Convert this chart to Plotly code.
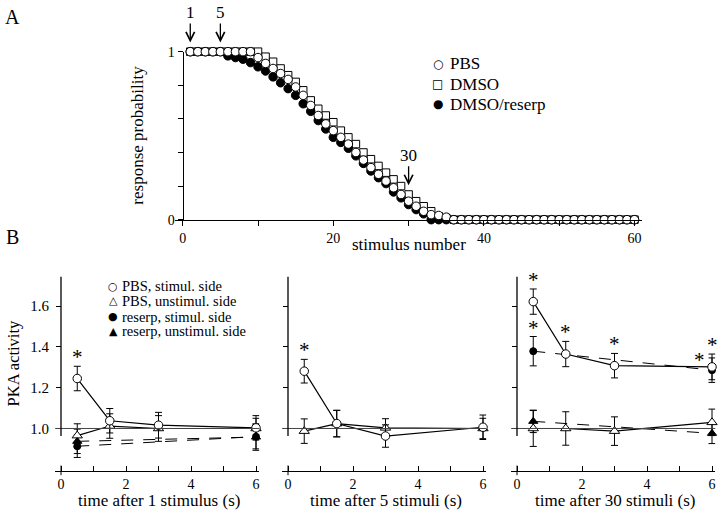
import plotly.graph_objects as go

FONT = "Liberation Serif, Times New Roman, serif"
W, H = 720, 520

# ---------------- Panel A data ----------------
stimulus = list(range(1, 61))
pbs_prob = [1.0, 1.0, 1.0, 1.0, 1.0, 1.0, 1.0, 1.0, 1.0, 0.965,
            0.93, 0.90, 0.87, 0.835, 0.79, 0.74, 0.68, 0.62, 0.57, 0.53,
            0.49, 0.45, 0.40, 0.355, 0.31, 0.27, 0.23, 0.19, 0.15, 0.11,
            0.08, 0.05, 0.03, 0.025, 0.015, 0, 0, 0, 0, 0,
            0, 0, 0, 0, 0, 0, 0, 0, 0, 0,
            0, 0, 0, 0, 0, 0, 0, 0, 0, 0]
dmso_prob = [1.0, 1.0, 1.0, 1.0, 1.0, 1.0, 1.0, 1.0, 1.0, 1.0,
             0.97, 0.94, 0.90, 0.86, 0.82, 0.77, 0.71, 0.66, 0.62, 0.58,
             0.53, 0.49, 0.45, 0.40, 0.36, 0.32, 0.28, 0.24, 0.20, 0.15,
             0.11, 0.08, 0.05, 0.02, 0.01, 0, 0, 0, 0, 0,
             0, 0, 0, 0, 0, 0, 0, 0, 0, 0,
             0, 0, 0, 0, 0, 0, 0, 0, 0, 0]
reserp_prob = [1.0, 1.0, 1.0, 1.0, 1.0, 0.975, 0.965, 0.955, 0.935, 0.91,
               0.885, 0.85, 0.815, 0.78, 0.74, 0.69, 0.645, 0.59, 0.54, 0.49,
               0.46, 0.425, 0.38, 0.335, 0.29, 0.25, 0.215, 0.165, 0.13, 0.09,
               0.06, 0.035, 0, 0, 0, 0, 0, 0, 0, 0,
               0, 0, 0, 0, 0, 0, 0, 0, 0, 0,
               0, 0, 0, 0, 0, 0, 0, 0, 0, 0]
arrow_stimuli = [1, 5, 30]

# ---------------- Panel B data ----------------
time_s = [0.5, 1.5, 3, 6]
panel_titles = ["time after 1 stimulus (s)", "time after 5 stimuli (s)", "time after 30 stimuli (s)"]

pbs_stim = [[1.245, 1.038, 1.016, 1.003],
            [1.281, 1.024, 0.963, 1.006],
            [1.622, 1.365, 1.308, 1.302]]
pbs_stim_err = [[0.06, 0.06, 0.063, 0.06],
                [0.058, 0.065, 0.055, 0.06],
                [0.062, 0.062, 0.06, 0.063]]
pbs_unstim = [[0.965, 1.012, 1.0, 1.0],
              [0.987, 1.024, 1.003, 1.0],
              [1.0, 1.0, 0.987, 1.03]]
pbs_unstim_err = [[0.058, 0.06, 0.063, 0.05],
                  [0.06, 0.065, 0.045, 0.05],
                  [0.088, 0.082, 0.07, 0.065]]
reserp_stim = [[0.913, None, None, 0.96],
               [None, None, None, None],
               [1.379, None, None, 1.286]]
reserp_stim_err = [[0.055, None, None, 0.06],
                   [None, None, None, None],
                   [0.072, None, None, 0.06]]
reserp_unstim = [[0.937, None, None, 0.958],
                 [None, None, None, None],
                 [1.035, None, None, 0.976]]
reserp_unstim_err = [[0.06, None, None, 0.065],
                     [None, None, None, None],
                     [0.055, None, None, 0.05]]
# significance stars: (panel, series, time index)
stars = [(0, "pbs", 0), (1, "pbs", 0),
         (2, "pbs", 0), (2, "res", 0), (2, "pbs", 1), (2, "pbs", 2), (2, "pbs", 3), (2, "res", 3)]

# ---------------- geometry (reference pixel -> paper fraction) ----------------
def fx(p):
    return p / W

def fy(p):
    return 1 - p / H

fig = go.Figure()

# Panel A axes
A_xr = [-1, 61]
A_dom = [fx(175.2), fx(642)]
A_ydom = [fy(219), fy(46)]
A_ypos = A_dom[0] + (0 - A_xr[0]) / (A_xr[1] - A_xr[0]) * (A_dom[1] - A_dom[0])

mk_line = dict(color="black", width=1)
fig.add_trace(go.Scatter(x=stimulus, y=dmso_prob, mode="markers", xaxis="x", yaxis="y",
                         marker=dict(symbol="square", size=7.5, color="white", line=mk_line),
                         cliponaxis=False, showlegend=False, name="DMSO"))
fig.add_trace(go.Scatter(x=stimulus, y=reserp_prob, mode="markers", xaxis="x", yaxis="y",
                         marker=dict(symbol="circle", size=8.5, color="black", line=mk_line),
                         cliponaxis=False, showlegend=False, name="DMSO/reserp"))
fig.add_trace(go.Scatter(x=stimulus, y=pbs_prob, mode="markers", xaxis="x", yaxis="y",
                         marker=dict(symbol="circle", size=8.5, color="white", line=mk_line),
                         cliponaxis=False, showlegend=False, name="PBS"))

layout = dict(
    width=W, height=H, margin=dict(l=0, r=0, t=0, b=0),
    paper_bgcolor="white", plot_bgcolor="white", showlegend=False,
    font=dict(family=FONT, color="black"),
    xaxis=dict(domain=A_dom, range=A_xr, anchor="y", showgrid=False, zeroline=False,
               showline=True, linecolor="black", linewidth=1.3,
               ticks="outside", ticklen=5, tickwidth=1, tickcolor="black",
               tickvals=[0, 10, 20, 30, 40, 50, 60], ticktext=["0", "", "20", "", "40", "", "60"],
               tickfont=dict(size=14, family=FONT)),
    yaxis=dict(domain=A_ydom, range=[0, 1], anchor="free", position=A_ypos, showgrid=False,
               zeroline=False, showline=True, linecolor="black", linewidth=1.3,
               ticks="outside", ticklen=5, tickwidth=1, tickcolor="black",
               tickvals=[0, 0.2, 0.4, 0.6, 0.8, 1.0], ticktext=["0", "", "", "", "", "1"],
               tickfont=dict(size=14, family=FONT)),
)

shapes = []
annotations = []

# Panel B axes
B_xr = [-0.18, 6.1]
B_zero_px = [61, 288, 517]
B_unit = 32.5
B_yr = [0.79, 1.745]
B_ydom = [fy(434 + (1 - B_yr[0]) * 210), fy(434 - (B_yr[1] - 1) * 210)]

for i in range(3):
    n = i + 2
    xa, ya = f"x{n}", f"y{n}"
    left = B_zero_px[i] + B_xr[0] * B_unit
    right = B_zero_px[i] + B_xr[1] * B_unit
    dom = [fx(left), fx(right)]
    ypos = fx(B_zero_px[i])
    layout[f"xaxis{n}"] = dict(domain=dom, range=B_xr, anchor=ya, showgrid=False, zeroline=False,
                               showline=True, linecolor="black", linewidth=1.3,
                               ticks="inside", ticklen=5, tickwidth=1, tickcolor="black",
                               tickvals=[0, 1, 2, 3, 4, 5, 6],
                               ticktext=["0", "", "2", "", "4", "", "6"],
                               tickfont=dict(size=14, family=FONT))
    layout[f"yaxis{n}"] = dict(domain=B_ydom, range=B_yr, anchor="free", position=ypos,
                               showgrid=False, zeroline=False, showline=False,
                               ticks="outside", ticklen=5, tickwidth=1, tickcolor="black",
                               tickvals=[1.0, 1.2, 1.4, 1.6],
                               ticktext=(["1.0", "1.2", "1.4", "1.6"] if i == 0 else ["", "", "", ""]),
                               ticklabelstandoff=4,
                               tickfont=dict(size=15, family=FONT))
    # reference line at 1.0
    shapes.append(dict(type="line", xref=f"{xa} domain", x0=0, x1=1, yref=ya, y0=1, y1=1,
                       line=dict(color="#444", width=1)))
    # vertical axis line (stops just below 1.0)
    shapes.append(dict(type="line", xref=xa, x0=0, x1=0, yref=ya, y0=0.963, y1=B_yr[1],
                       line=dict(color="black", width=1.3)))
    # the x=0 tick of the time axis crosses the axis line
    shapes.append(dict(type="line", xref=xa, x0=0, x1=0, yref=f"{ya} domain", y0=-0.02, y1=0.03,
                       line=dict(color="black", width=1)))

    eb = dict(type="data", thickness=1, width=3.5, color="black")
    if any(v is not None for v in reserp_stim[i]):
        fig.add_trace(go.Scatter(x=time_s, y=reserp_stim[i], xaxis=xa, yaxis=ya, mode="lines+markers",
                                 connectgaps=True, line=dict(color="black", width=1, dash="12px,10px"),
                                 marker=dict(symbol="circle", size=7, color="black", line=mk_line),
                                 error_y=dict(array=reserp_stim_err[i], **eb), cliponaxis=False))
        fig.add_trace(go.Scatter(x=time_s, y=reserp_unstim[i], xaxis=xa, yaxis=ya, mode="lines+markers",
                                 connectgaps=True, line=dict(color="black", width=1, dash="12px,10px"),
                                 marker=dict(symbol="triangle-up", size=8, color="black", line=mk_line),
                                 error_y=dict(array=reserp_unstim_err[i], **eb), cliponaxis=False))
    fig.add_trace(go.Scatter(x=time_s, y=pbs_unstim[i], xaxis=xa, yaxis=ya, mode="lines+markers",
                             line=dict(color="black", width=1.2),
                             marker=dict(symbol="triangle-up", size=9, color="white", line=mk_line),
                             error_y=dict(array=pbs_unstim_err[i], **eb), cliponaxis=False))
    fig.add_trace(go.Scatter(x=time_s, y=pbs_stim[i], xaxis=xa, yaxis=ya, mode="lines+markers",
                             line=dict(color="black", width=1.2),
                             marker=dict(symbol="circle", size=8.5, color="white", line=mk_line),
                             error_y=dict(array=pbs_stim_err[i], **eb), cliponaxis=False))
    annotations.append(dict(x=fx((left + right) / 2 + 2), y=fy(508), xref="paper", yref="paper",
                            text=panel_titles[i], showarrow=False, font=dict(size=17, family=FONT),
                            xanchor="center", yanchor="middle"))

# stars
for (p, s, k) in stars:
    if s == "pbs":
        top = pbs_stim[p][k] + pbs_stim_err[p][k]
    else:
        top = reserp_stim[p][k] + reserp_stim_err[p][k]
    shiftx, shifty = 0, 9
    if s == "res" and k == 3:
        shiftx, shifty = -13, -2
    annotations.append(dict(x=time_s[k], y=top, xref=f"x{p + 2}", yref=f"y{p + 2}", text="*",
                            showarrow=False, font=dict(size=21, family=FONT),
                            xanchor="center", yanchor="middle", xshift=shiftx, yshift=shifty))

# arrows in panel A (tip placed just above the highest marker of that stimulus)
for n in arrow_stimuli:
    tip = max(pbs_prob[n - 1], dmso_prob[n - 1], reserp_prob[n - 1]) + 0.055
    tip_paper = A_ydom[0] + tip * (A_ydom[1] - A_ydom[0])
    annotations.append(dict(x=n, y=tip_paper, xref="x", yref="paper", text=str(n), showarrow=True,
                            arrowhead=5, arrowsize=1.3, arrowwidth=1.3, arrowcolor="black",
                            ax=0, ay=-30, standoff=0, font=dict(size=17, family=FONT)))

# panel labels
annotations.append(dict(x=fx(12), y=fy(10), xref="paper", yref="paper", text="A", showarrow=False,
                        font=dict(size=20, family=FONT), xanchor="center", yanchor="middle"))
annotations.append(dict(x=fx(12), y=fy(237), xref="paper", yref="paper", text="B", showarrow=False,
                        font=dict(size=20, family=FONT), xanchor="center", yanchor="middle"))

# axis titles
annotations.append(dict(x=fx(138), y=fy(132.5), xref="paper", yref="paper", text="response probability",
                        showarrow=False, textangle=-90, font=dict(size=17, family=FONT),
                        xanchor="center", yanchor="middle"))
annotations.append(dict(x=fx(409), y=fy(245), xref="paper", yref="paper", text="stimulus number",
                        showarrow=False, font=dict(size=17, family=FONT), xanchor="center", yanchor="middle"))
annotations.append(dict(x=fx(13), y=fy(367), xref="paper", yref="paper", text="PKA activity",
                        showarrow=False, textangle=-90, font=dict(size=16.5, family=FONT),
                        xanchor="center", yanchor="middle"))

# legend A
legA = [("○", "PBS"), ("□", "DMSO"), ("●", "DMSO/reserp")]
for j, (g, t) in enumerate(legA):
    yy = [58.3, 79.3, 100][j]
    annotations.append(dict(x=fx(437.7), y=fy(yy), xref="paper", yref="paper", text=g, showarrow=False,
                            font=dict(size=12, family="DejaVu Sans"), xanchor="center", yanchor="middle"))
    annotations.append(dict(x=fx(448), y=fy(yy), xref="paper", yref="paper", text=t, showarrow=False,
                            font=dict(size=17, family=FONT), xanchor="left", yanchor="middle"))

# legend B
legB = [("○", "PBS, stimul. side"), ("△", "PBS, unstimul. side"),
        ("●", "reserp, stimul. side"), ("▲", "reserp, unstimul. side")]
for j, (g, t) in enumerate(legB):
    yy = [287.3, 302.7, 318.7, 334][j]
    annotations.append(dict(x=fx(113.3), y=fy(yy), xref="paper", yref="paper", text=g, showarrow=False,
                            font=dict(size=11, family="DejaVu Sans"), xanchor="center", yanchor="middle"))
    annotations.append(dict(x=fx(120), y=fy(yy), xref="paper", yref="paper", text=t, showarrow=False,
                            font=dict(size=14.5, family=FONT), xanchor="left", yanchor="middle"))

layout["shapes"] = shapes
layout["annotations"] = annotations
fig.update_layout(**layout)
# remove the browser's default 8 px page margin so the figure starts at the window corner
fig.write_html("out.html", config={"displayModeBar": False},
               post_script="document.body.style.margin='0px';")
